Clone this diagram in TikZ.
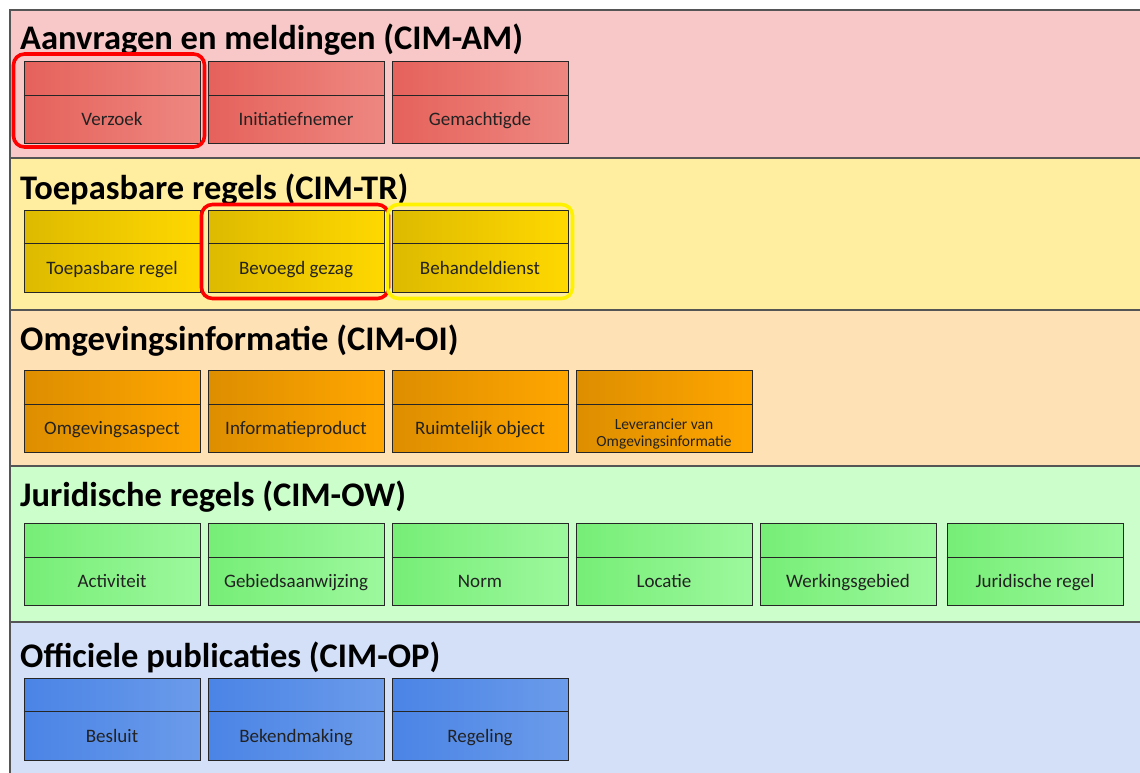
\documentclass[tikz,border=0pt]{standalone}
\usepackage{fontspec}
\setmainfont{Carlito}
\usetikzlibrary{calc}
\definecolor{bandAM}{HTML}{F7C8C7}
\definecolor{bandTR}{HTML}{FFEEA0}
\definecolor{bandOI}{HTML}{FFE1B6}
\definecolor{bandOW}{HTML}{CCFECC}
\definecolor{bandOP}{HTML}{D3E0F7}
\definecolor{AML}{HTML}{E5625B}\definecolor{AMR}{HTML}{EE8781}
\definecolor{TRL}{HTML}{DDBA00}\definecolor{TRR}{HTML}{FFD800}
\definecolor{OIL}{HTML}{DD8E00}\definecolor{OIR}{HTML}{FFA600}
\definecolor{OWL}{HTML}{76EE76}\definecolor{OWR}{HTML}{9DF89D}
\definecolor{OPL}{HTML}{4A84E6}\definecolor{OPR}{HTML}{6B9BEA}
\definecolor{frame}{HTML}{555555}
\definecolor{txt}{HTML}{222222}
\tikzset{
  band/.style={draw=frame, line width=1.4pt},
  title/.style={anchor=base west, font=\bfseries\fontsize{34.5}{36}\selectfont, inner sep=0pt},
  cbox/.style={draw=black!85, line width=1pt, minimum width=176pt, minimum height=82pt, inner sep=0pt},
  divider/.style={draw=black!85, line width=1pt},
  boxtext/.style={anchor=base, text=txt, font=\fontsize{19}{21}\selectfont, align=center, inner sep=0pt},
  smalltext/.style={anchor=center, text=txt, font=\fontsize{15.5}{17}\selectfont, align=center, inner sep=0pt},
  hlred/.style={draw=red, line width=3.6pt, rounded corners=11pt},
  hlyellow/.style={draw=yellow, line width=3.6pt, rounded corners=11pt},
}
% #1 name, #2 x, #3 y, #4 colour prefix, #5 text style, #6 text position fraction, #7 text
\newcommand{\cimbox}[7]{%
  \node[cbox, left color=#4L, right color=#4R] (#1) at (#2,#3) {};
  \draw[divider] ($(#1.north west)!0.41!(#1.south west)$) -- ($(#1.north east)!0.41!(#1.south east)$);
  \node[#5] (#1-t) at ($(#1.north)!#6!(#1.south)$) {#7};
}
\begin{document}
\begin{tikzpicture}[x=1pt,y=-1pt]
\useasboundingbox (0,0) rectangle (1140,772);
\fill[white] (0,0) rectangle (1140,772);
% bands
\fill[bandAM] (10,10) rectangle (1145,158);
\fill[bandTR] (10,158) rectangle (1145,310);
\fill[bandOI] (10,310) rectangle (1145,466);
\fill[bandOW] (10,466) rectangle (1145,622);
\fill[bandOP] (10,622) rectangle (1145,780);
\draw[band] (1145,10) -- (10,10) -- (10,780);
\draw[band] (10,158) -- (1145,158);
\draw[band] (10,310) -- (1145,310);
\draw[band] (10,466) -- (1145,466);
\draw[band] (10,622) -- (1145,622);
% titles
\node[title] (tAM) at (20,49) {Aanvragen en meldingen (CIM-AM)};
\node[title] (tTR) at (20,199) {Toepasbare regels (CIM-TR)};
\node[title] (tOI) at (20,350) {Omgevingsinformatie (CIM-OI)};
\node[title] (tOW) at (20,506) {Juridische regels (CIM-OW)};
\node[title] (tOP) at (20,667) {Officiele publicaties (CIM-OP)};
% row 1
\cimbox{verzoek}{112}{102.5}{AM}{boxtext}{0.78}{Verzoek}
\cimbox{initiatiefnemer}{296}{102.5}{AM}{boxtext}{0.78}{Initiatiefnemer}
\cimbox{gemachtigde}{480}{102.5}{AM}{boxtext}{0.78}{Gemachtigde}
% row 2
\cimbox{toepasbare}{112}{251}{TR}{boxtext}{0.78}{Toepasbare regel}
\cimbox{bevoegd}{296}{251}{TR}{boxtext}{0.78}{Bevoegd gezag}
\cimbox{behandel}{480}{251}{TR}{boxtext}{0.78}{Behandeldienst}
% row 3
\cimbox{aspect}{112}{411.5}{OI}{boxtext}{0.78}{Omgevingsaspect}
\cimbox{product}{296}{411.5}{OI}{boxtext}{0.78}{Informatieproduct}
\cimbox{ruimtelijk}{480}{411.5}{OI}{boxtext}{0.78}{Ruimtelijk object}
\cimbox{leverancier}{664}{411.5}{OI}{smalltext}{0.775}{Leverancier van\\Omgevingsinformatie}
% row 4
\cimbox{activiteit}{112}{564.5}{OW}{boxtext}{0.78}{Activiteit}
\cimbox{gebied}{296}{564.5}{OW}{boxtext}{0.78}{Gebiedsaanwijzing}
\cimbox{norm}{480}{564.5}{OW}{boxtext}{0.78}{Norm}
\cimbox{locatie}{664}{564.5}{OW}{boxtext}{0.78}{Locatie}
\cimbox{werking}{848}{564.5}{OW}{boxtext}{0.78}{Werkingsgebied}
\cimbox{juridisch}{1035}{564.5}{OW}{boxtext}{0.78}{Juridische regel}
% row 5
\cimbox{besluit}{112}{719}{OP}{boxtext}{0.78}{Besluit}
\cimbox{bekend}{296}{719}{OP}{boxtext}{0.78}{Bekendmaking}
\cimbox{regeling}{480}{719}{OP}{boxtext}{0.78}{Regeling}
% highlights
\draw[hlred] ([shift={(-10,-7)}]verzoek.north west) rectangle ([shift={(4,3)}]verzoek.south east);
\draw[hlred] ([shift={(-6,-5)}]bevoegd.north west) rectangle ([shift={(4,6)}]bevoegd.south east);
\draw[hlyellow] ([shift={(-4,-5)}]behandel.north west) rectangle ([shift={(4,6)}]behandel.south east);
\end{tikzpicture}
\end{document}
